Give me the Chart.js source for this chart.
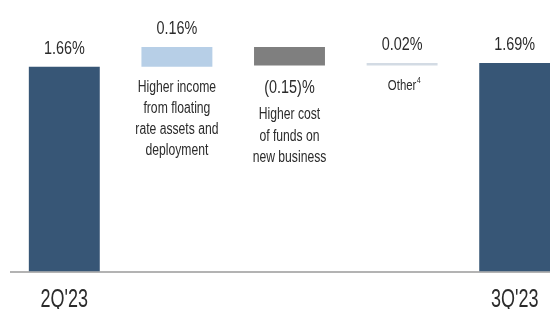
<!DOCTYPE html>
<html>
<head>
<meta charset="utf-8">
<script src="https://cdn.jsdelivr.net/npm/chart.js@4/dist/chart.umd.min.js"></script>
<style>
  html, body { margin: 0; padding: 0; background: #fff; overflow: hidden; }
  #wrap { position: relative; width: 580px; height: 309px; }
</style>
</head>
<body>
<div id="wrap"><canvas id="c"></canvas></div>
<script>
// ---- data ----
const categories = ["2Q'23", "Floating rate", "Cost of funds", "Other", "3Q'23"];
const axisLabels = ["2Q'23", "", "", "", "3Q'23"];
const startValue = 1.66;
const changes = [0.16, -0.15, 0.02];
const endValue = 1.69;
const valueLabels = ["1.66%", "0.16%", "(0.15)%", "0.02%", "1.69%"];
const descriptions = [
  [],
  ["Higher income", "from floating", "rate assets and", "deployment"],
  ["Higher cost", "of funds on", "new business"],
  ["Other"],
  []
];
const superscripts = ["", "", "", "4", ""];

// ---- build waterfall ranges ----
const ranges = [[0, startValue]];
let running = startValue;
changes.forEach(function (d) {
  const next = Math.round((running + d) * 100) / 100;
  ranges.push([running, next]);
  running = next;
});
ranges.push([0, endValue]);

const colors = ['#375676', '#b7cfe7', '#7f7f7f', '#d3dbe4', '#375676'];
const descSizes = [16, 16, 16, 15, 16];
const TEXT = '#2b2b2b';

function drawText(ctx, txt, x, y, size, sx) {
  ctx.save();
  ctx.font = size + 'px "Liberation Sans", Arial, sans-serif';
  ctx.textAlign = 'center';
  ctx.textBaseline = 'alphabetic';
  ctx.fillStyle = TEXT;
  ctx.translate(x, y);
  ctx.scale(sx, 1);
  ctx.fillText(txt, 0, 0);
  const w = ctx.measureText(txt).width * sx;
  ctx.restore();
  return w;
}

const labelPlugin = {
  id: 'wfLabels',
  beforeDatasetsDraw(chart) {
    const ctx = chart.ctx;
    const y0 = chart.scales.y.getPixelForValue(0);
    ctx.save();
    ctx.strokeStyle = '#b3b3b3';
    ctx.lineWidth = 2;
    ctx.beginPath();
    ctx.moveTo(10, y0 + 0.5);
    ctx.lineTo(chart.width, y0 + 0.5);
    ctx.stroke();
    ctx.restore();
  },
  afterDatasetsDraw(chart) {
    const ctx = chart.ctx;
    const meta = chart.getDatasetMeta(0);
    meta.data.forEach(function (bar, i) {
      const top = Math.min(bar.y, bar.base);
      const bottom = Math.max(bar.y, bar.base);
      const r = ranges[i];
      const negative = r[1] < r[0];
      if (negative) {
        drawText(ctx, valueLabels[i], bar.x, bottom + 28, 18, 0.8);
        descriptions[i].forEach(function (line, k) {
          drawText(ctx, line, bar.x, bottom + 54 + k * 21.5, descSizes[i], 0.76);
        });
      } else {
        drawText(ctx, valueLabels[i], bar.x, top - 13, 18, 0.8);
        descriptions[i].forEach(function (line, k) {
          const w = drawText(ctx, line, bar.x, bottom + 25 + k * 21, descSizes[i], 0.76);
          if (superscripts[i]) {
            drawText(ctx, superscripts[i], bar.x + w / 2 + 2.5, bottom + 25 + k * 21 - 7, 9, 0.8);
          }
        });
      }
      if (axisLabels[i]) {
        drawText(ctx, axisLabels[i], bar.x, 307, 25, 0.72);
      }
    });
  }
};

new Chart(document.getElementById('c'), {
  type: 'bar',
  data: {
    labels: categories,
    datasets: [{
      data: ranges,
      backgroundColor: colors,
      borderWidth: 0,
      categoryPercentage: 1.0,
      barPercentage: 0.63
    }]
  },
  options: {
    responsive: true,
    maintainAspectRatio: false,
    animation: false,
    layout: { padding: { left: 8, right: 9, top: 0, bottom: 37.5 } },
    plugins: { legend: { display: false }, tooltip: { enabled: false } },
    scales: {
      x: { display: false },
      y: { display: false, min: 0, max: 2.2 }
    }
  },
  plugins: [labelPlugin]
});
</script>
</body>
</html>
